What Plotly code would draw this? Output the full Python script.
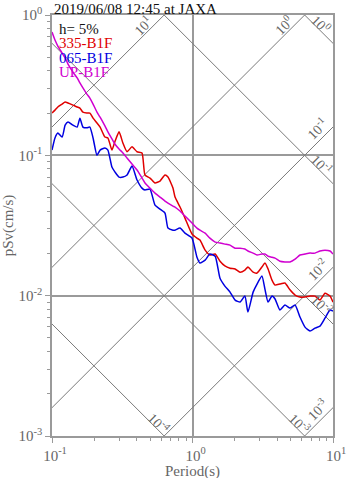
import math
import plotly.graph_objects as go

# periods (s)
period = [0.100, 0.105, 0.110, 0.118, 0.124, 0.130, 0.141, 0.151, 0.158, 0.166,
          0.177, 0.186, 0.196, 0.209, 0.220, 0.238, 0.250, 0.267, 0.281, 0.300,
          0.320, 0.342, 0.371, 0.403, 0.437, 0.459, 0.498, 0.541, 0.587, 0.637,
          0.669, 0.726, 0.751, 0.815, 0.884, 0.992, 1.076, 1.13, 1.23, 1.33,
          1.45, 1.57, 1.70, 1.85, 2.01, 2.18, 2.36, 2.48, 2.70, 2.88,
          3.12, 3.28, 3.45, 3.68, 3.87, 4.19, 4.55, 4.94, 5.37, 5.82,
          6.32, 6.86, 7.45, 8.08, 8.77, 9.52, 10.0]

# pSv (cm/s)
sv_335 = [0.200, 0.210, 0.221, 0.232, 0.240, 0.236, 0.228, 0.221, 0.217, 0.203,
          0.200, 0.200, 0.184, 0.170, 0.159, 0.135, 0.133, 0.109, 0.126, 0.147,
          0.122, 0.106, 0.115, 0.106, 0.104, 0.0724, 0.0689, 0.0635, 0.0656, 0.0724,
          0.0700, 0.0584, 0.0504, 0.0428, 0.0357, 0.0275, 0.0257, 0.0249, 0.0211, 0.0195,
          0.0198, 0.0176, 0.0163, 0.0157, 0.0155, 0.0147, 0.0152, 0.0160, 0.0147, 0.0145,
          0.0160, 0.0171, 0.0155, 0.0129, 0.0119, 0.0121, 0.0123, 0.0110, 0.0101, 0.00977,
          0.00977, 0.00993, 0.00993, 0.00930, 0.0104, 0.00993, 0.00900]

sv_065 = [0.109, 0.133, 0.144, 0.135, 0.164, 0.173, 0.164, 0.159, 0.184, 0.159,
          0.157, 0.159, 0.133, 0.100, 0.109, 0.113, 0.109, 0.0825, 0.0760, 0.0700,
          0.0700, 0.0724, 0.0839, 0.0667, 0.0584, 0.0566, 0.0575, 0.0442, 0.0414, 0.0388,
          0.0303, 0.0293, 0.0293, 0.0303, 0.0279, 0.0257, 0.0188, 0.0171, 0.0179, 0.0198,
          0.0191, 0.0133, 0.0117, 0.0106, 0.00930, 0.00900, 0.00993, 0.00764, 0.0106, 0.0121,
          0.0138, 0.0111, 0.00900, 0.00993, 0.00946, 0.00790, 0.00857, 0.00816, 0.00857, 0.00704,
          0.00597, 0.00559, 0.00587, 0.00607, 0.00692, 0.00790, 0.00777]

sv_up = [0.756, 0.663, 0.601, 0.536, 0.494, 0.447, 0.392, 0.356, 0.328, 0.302,
         0.273, 0.256, 0.232, 0.203, 0.187, 0.162, 0.147, 0.131, 0.120, 0.111,
         0.104, 0.0957, 0.0867, 0.0786, 0.0689, 0.0635, 0.0584, 0.0538, 0.0504, 0.0472,
         0.0457, 0.0435, 0.0428, 0.0401, 0.0369, 0.0329, 0.0303, 0.0293, 0.0279, 0.0257,
         0.0241, 0.0237, 0.0233, 0.0229, 0.0218, 0.0218, 0.0215, 0.0208, 0.0201, 0.0195,
         0.0198, 0.0198, 0.0191, 0.0188, 0.0185, 0.0176, 0.0174, 0.0174, 0.0182, 0.0195,
         0.0198, 0.0201, 0.0201, 0.0208, 0.0211, 0.0208, 0.0198]

series = [("335-B1F", sv_335, "#e00000"),
          ("065-B1F", sv_065, "#0000e0"),
          ("UP-B1F", sv_up, "#d000d0")]

# tripartite guide lines
acc_exp = [1, 0, -1, -2, -3]      # pSa (cm/s2) = 10^k
disp_exp = [0, -1, -2, -3, -4]    # Sd (cm) = 10^k

x_ticks = [0.1, 1, 10]
x_ticktext = ["10<sup>-1</sup>", "10<sup>0</sup>", "10<sup>1</sup>"]
y_ticks = [0.001, 0.01, 0.1, 1]
y_ticktext = ["10<sup>-3</sup>", "10<sup>-2</sup>", "10<sup>-1</sup>", "10<sup>0</sup>"]

FONT = "Liberation Serif, Times New Roman, serif"
GRID = "#9a9a9a"
DIAG = "#7a7a7a"
TXT = "#666666"
L2PI = math.log10(2 * math.pi)
PX = 0.00712   # log units per pixel (both axes)

fig = go.Figure()
ann = []

for k in acc_exp:
    fig.add_trace(go.Scatter(x=[0.1, 10], y=[10 ** k * t / (2 * math.pi) for t in [0.1, 10]],
                             mode="lines", line=dict(color=DIAG, width=1),
                             hoverinfo="skip", showlegend=False))
    lx = min(1.0, L2PI - k)
    ly = k + lx - L2PI
    b, p = (12, 10) if lx >= 1.0 else (22, 8)
    ax = lx - (b + p) / math.sqrt(2) * PX
    ay = ly - (b - p) / math.sqrt(2) * PX
    ann.append(dict(x=ax, y=ay, xref="x", yref="y", text=f"10<sup>{k}</sup>",
                    textangle=-45, showarrow=False,
                    font=dict(family=FONT, size=14, color=TXT)))

for k in disp_exp:
    fig.add_trace(go.Scatter(x=[0.1, 10], y=[2 * math.pi * 10 ** k / t for t in [0.1, 10]],
                             mode="lines", line=dict(color=DIAG, width=1),
                             hoverinfo="skip", showlegend=False))
    lx = min(1.0, k + L2PI + 3)
    ly = k + L2PI - lx
    b, p = (22, 6) if lx >= 1.0 else (13, 6)
    ax = lx - (b - p) / math.sqrt(2) * PX
    ay = ly + (b + p) / math.sqrt(2) * PX
    ann.append(dict(x=ax, y=ay, xref="x", yref="y", text=f"10<sup>{k}</sup>",
                    textangle=45, showarrow=False,
                    font=dict(family=FONT, size=14, color=TXT)))

for name, vals, col in series:
    fig.add_trace(go.Scatter(x=period, y=vals, mode="lines", name=name,
                             line=dict(color=col, width=1.5, shape="spline", smoothing=0.5),
                             showlegend=False))

# legend-like text block
labels = [("h= 5%", "#111111")] + [(n, c) for n, _, c in series]
for i, (t, c) in enumerate(labels):
    ann.append(dict(x=0.018, y=0.967 - i * 0.0345, xref="paper", yref="paper",
                    xanchor="left", yanchor="middle", text=t, showarrow=False,
                    font=dict(family=FONT, size=15, color=c)))

ann.append(dict(x=0, y=1, xref="paper", yref="paper", xanchor="left", yanchor="bottom",
                yshift=-4, text="2019/06/08 12:45 at JAXA", showarrow=False,
                font=dict(family=FONT, size=15, color="#111111")))

# x-axis title placed by hand to sit below the tick labels
ann.append(dict(x=0.5, y=0, xref="paper", yref="paper", xanchor="center", yanchor="middle",
                yshift=-35, text="Period(s)", showarrow=False,
                font=dict(family=FONT, size=15, color=TXT)))

axis_common = dict(type="log", automargin=False,
                   showgrid=True, gridcolor=GRID, gridwidth=1.5,
                   showline=True, linecolor=GRID, linewidth=1.5, mirror=True,
                   ticks="outside", ticklen=5, tickcolor=GRID,
                   minor=dict(ticks="outside", ticklen=3, tickcolor=GRID, dtick="D1", showgrid=False),
                   tickfont=dict(family=FONT, size=15, color=TXT),
                   title_font=dict(family=FONT, size=15, color=TXT))

fig.update_xaxes(range=[-1, 1], tickvals=x_ticks, ticktext=x_ticktext, ticklabelshift=3,
                 **axis_common)
fig.update_yaxes(range=[-3, 0], tickvals=y_ticks, ticktext=y_ticktext,
                 title_text="pSv(cm/s)", title_standoff=6, **axis_common)

fig.update_layout(width=347, height=478,
                  margin=dict(l=52, r=14, t=15, b=42),
                  paper_bgcolor="white", plot_bgcolor="white",
                  annotations=ann, showlegend=False)

fig.write_html("out.html", config={"displayModeBar": False},
               post_script="document.body.style.margin='0';")
